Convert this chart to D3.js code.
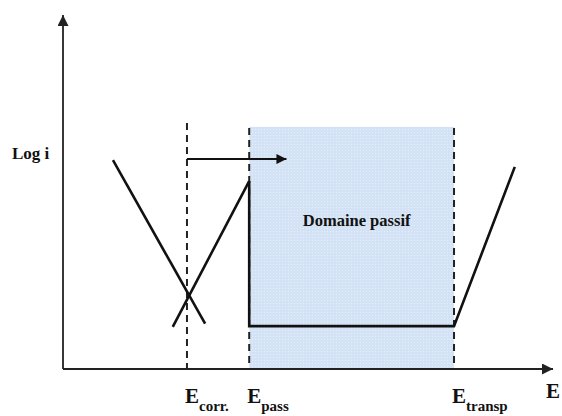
<!DOCTYPE html>
<html>
<head>
<meta charset="utf-8">
<script src="https://cdn.jsdelivr.net/npm/d3@7"></script>
<style>
  html, body { margin: 0; padding: 0; background: #fff; }
  svg { display: block; }
  text { font-family: "Liberation Serif", "Times New Roman", serif; font-weight: bold; fill: #111; }
</style>
</head>
<body>
<svg id="chart" width="562" height="416"></svg>
<script>
// Characteristic potentials (arbitrary potential units)
const potentials = [
  { name: "corr.", value: 25.3, top: 69.5 },
  { name: "pass", value: 38.0, top: 68.1 },
  { name: "transp", value: 79.8, top: 68.1 }
];

// Cathodic branch (log i decreases with E)
const cathodic = [[10.2, 59.0], [29.0, 12.8]];
// Active anodic branch, then passive plateau, then transpassive rise
const anodic = [[22.4, 11.9], [38.0, 53.1]];
const passive = [[38.0, 53.1], [38.0, 12.1], [79.8, 12.1], [92.2, 57.1]];

// Passive domain band
const passiveDomain = { from: 38.0, to: 79.8, top: 68.4, label: "Domaine passif" };

// Shift arrow from E_corr towards E_pass
const shiftArrow = [[25.3, 59.3], [45.6, 59.3]];

const svg = d3.select("#chart");
const x = d3.scaleLinear().domain([0, 100]).range([63, 553]);
const y = d3.scaleLinear().domain([0, 100]).range([369, 15]);

const defs = svg.append("defs");
defs.append("marker")
  .attr("id", "head").attr("viewBox", "0 0 10 10")
  .attr("refX", 10).attr("refY", 5)
  .attr("markerWidth", 10).attr("markerHeight", 10)
  .attr("markerUnits", "userSpaceOnUse")
  .attr("orient", "auto")
  .append("path").attr("d", "M0,0L10,5L0,10Z").attr("fill", "#111");

defs.append("marker")
  .attr("id", "axisHead").attr("viewBox", "0 0 10 10")
  .attr("refX", 10).attr("refY", 5)
  .attr("markerWidth", 12).attr("markerHeight", 11)
  .attr("markerUnits", "userSpaceOnUse")
  .attr("orient", "auto")
  .append("path").attr("d", "M0,0L10,5L0,10Z").attr("fill", "#222");

// Passive domain shading with a fine dotted texture
const pat = defs.append("pattern")
  .attr("id", "dots").attr("width", 3).attr("height", 3)
  .attr("patternUnits", "userSpaceOnUse");
pat.append("rect").attr("width", 3).attr("height", 3).attr("fill", "#d3e2f4");
pat.append("rect").attr("width", 1).attr("height", 1).attr("fill", "#e6eff9");

svg.append("rect")
  .attr("x", x(passiveDomain.from))
  .attr("y", y(passiveDomain.top))
  .attr("width", x(passiveDomain.to) - x(passiveDomain.from))
  .attr("height", y(0) - y(passiveDomain.top))
  .attr("fill", "url(#dots)");

svg.append("text")
  .attr("x", (x(passiveDomain.from) + x(passiveDomain.to)) / 2 + 5)
  .attr("y", y(40.5))
  .attr("text-anchor", "middle")
  .attr("font-size", 16.5)
  .text(passiveDomain.label);

// Dashed potential markers
svg.selectAll("line.pot").data(potentials).join("line")
  .attr("class", "pot")
  .attr("x1", d => x(d.value)).attr("x2", d => x(d.value))
  .attr("y1", d => y(d.top)).attr("y2", y(0))
  .attr("stroke", "#222").attr("stroke-width", 2)
  .attr("stroke-dasharray", "7,5");

// Axes with arrowheads
svg.append("line")
  .attr("x1", x(0)).attr("y1", y(0)).attr("x2", x(0)).attr("y2", y(100))
  .attr("stroke", "#222").attr("stroke-width", 1.8)
  .attr("marker-end", "url(#axisHead)");
svg.append("line")
  .attr("x1", x(0)).attr("y1", y(0)).attr("x2", x(100)).attr("y2", y(0))
  .attr("stroke", "#222").attr("stroke-width", 1.8)
  .attr("marker-end", "url(#axisHead)");

const line = d3.line().x(d => x(d[0])).y(d => y(d[1]));
[cathodic, anodic, passive].forEach(pts => {
  svg.append("path").attr("d", line(pts))
    .attr("fill", "none").attr("stroke", "#111")
    .attr("stroke-width", 2.6).attr("stroke-linejoin", "miter");
});

svg.append("path").attr("d", line(shiftArrow))
  .attr("fill", "none").attr("stroke", "#111").attr("stroke-width", 2)
  .attr("marker-end", "url(#head)");

// Axis titles
svg.append("text").attr("x", 12).attr("y", 159).attr("font-size", 17).text("Log i");
svg.append("text").attr("x", 546).attr("y", 398).attr("font-size", 21).text("E");

// Potential labels with subscripts
potentials.forEach(p => {
  const t = svg.append("text").attr("x", x(p.value) - 2).attr("y", 403).attr("font-size", 21);
  t.append("tspan").text("E");
  t.append("tspan").attr("dy", 8).attr("font-size", 15).text(p.name);
});
</script>
</body>
</html>
